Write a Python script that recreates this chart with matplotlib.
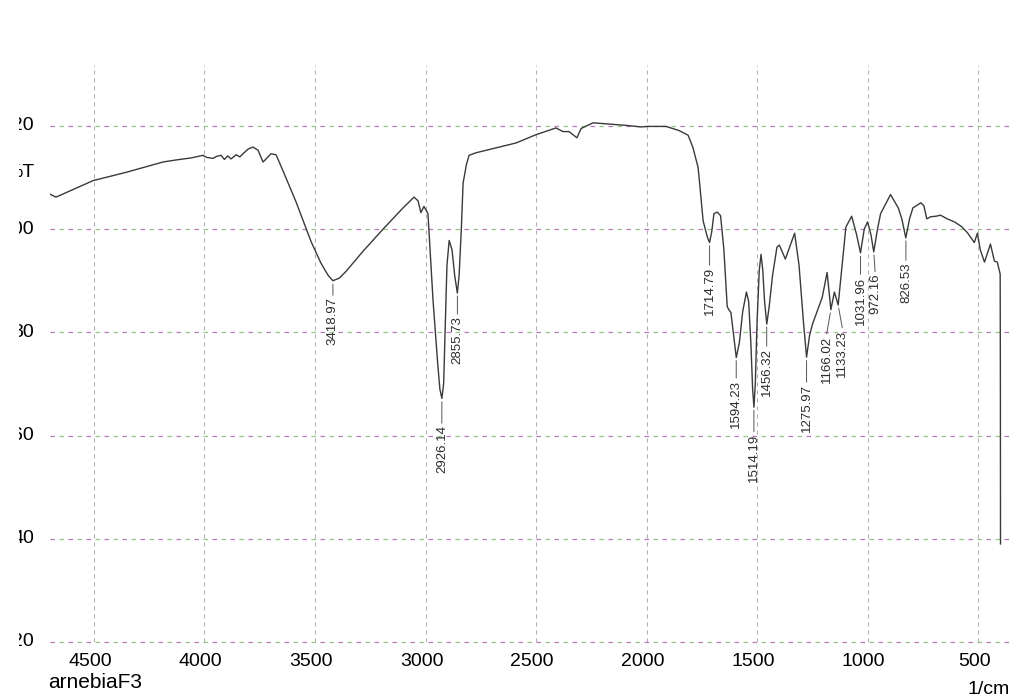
import numpy as np
import matplotlib
matplotlib.use('Agg')
import matplotlib.pyplot as plt
from matplotlib.transforms import Bbox, blended_transform_factory, offset_copy

plt.rcParams['font.family'] = ['Liberation Sans', 'DejaVu Sans']

# ---------------- data ----------------
wavenumber = [4700, 4672, 4504, 4355, 4188, 4129, 4060, 4007, 3990, 3962, 3945, 3925,
              3910, 3895, 3880, 3857, 3840, 3826, 3803, 3781, 3758, 3735, 3699, 3676,
              3640, 3586, 3518, 3473, 3440, 3419, 3390, 3360, 3283, 3192, 3102, 3052,
              3034, 3021, 3007, 2989, 2966, 2945, 2935, 2926, 2918, 2910, 2903, 2893,
              2880, 2868, 2856, 2848, 2838, 2830, 2815, 2803, 2771, 2667, 2590, 2500,
              2410, 2378, 2351, 2315, 2296, 2242, 2183, 2093, 2025, 1993, 1912, 1853,
              1812, 1790, 1767, 1762, 1744, 1725, 1715, 1705, 1695, 1680, 1665, 1650,
              1642, 1635, 1628, 1618, 1605, 1594, 1580, 1565, 1548, 1538, 1528, 1520,
              1514, 1508, 1500, 1490, 1482, 1474, 1466, 1456, 1445, 1430, 1410, 1399,
              1372, 1330, 1310, 1290, 1276, 1262, 1249, 1220, 1205, 1183, 1166, 1150,
              1133, 1115, 1098, 1072, 1050, 1032, 1015, 1000, 985, 972, 955, 941, 896,
              861, 845, 827, 810, 795, 759, 745, 732, 714, 690, 670, 640, 607, 575,
              548, 517, 503, 490, 471, 444, 426, 413, 400, 399, 398.5]
transmittance = [106.8, 106.2, 109.4, 111.0, 113.0, 113.4, 113.8, 114.3, 113.9, 113.7, 114.1, 114.3,
                 113.5, 114.2, 113.6, 114.4, 114.0, 114.6, 115.5, 115.9, 115.3, 113.0, 114.6, 114.4,
                 110.8, 105.3, 97.6, 93.4, 91.0, 90.0, 90.5, 91.8, 95.7, 100.0, 104.1, 106.2,
                 105.5, 103.2, 104.4, 103.0, 86.2, 74.0, 69.0, 67.2, 70.0, 82.0, 93.0, 97.8,
                 96.0, 91.0, 87.6, 91.0, 100.0, 108.9, 112.5, 114.3, 114.8, 115.9, 116.7, 118.3,
                 119.6, 118.9, 118.9, 117.7, 119.5, 120.6, 120.4, 120.1, 119.8, 119.9, 119.9, 119.1,
                 118.2, 115.8, 112.0, 109.9, 101.6, 98.5, 97.4, 99.5, 103.0, 103.3, 102.6, 96.0,
                 90.0, 85.0, 84.4, 83.8, 79.0, 75.1, 78.0, 84.0, 87.8, 86.0, 78.0, 69.0,
                 65.5, 70.0, 82.0, 92.0, 95.1, 92.0, 86.0, 81.6, 85.0, 91.0, 96.5, 96.9,
                 94.2, 99.2, 93.0, 82.0, 75.2, 79.5, 81.6, 85.0, 86.8, 91.6, 84.4, 87.8,
                 85.3, 93.0, 100.4, 102.5, 99.0, 95.4, 100.0, 101.4, 99.0, 95.6, 100.0, 103.0, 106.7,
                 104.1, 102.0, 98.3, 102.0, 104.1, 105.1, 104.5, 102.0, 102.4, 102.5, 102.7, 102.0, 101.4, 100.5,
                 99.3, 97.4, 99.2, 96.0, 93.6, 97.1, 93.8, 93.6, 91.3, 70.0, 39.0]

peak_wn = [3418.97, 2926.14, 2855.73, 1714.79, 1594.23, 1514.19, 1456.32,
           1275.97, 1166.02, 1133.23, 1031.96, 972.16, 826.53]
peak_labels = ["3418.97", "2926.14", "2855.73", "1714.79", "1594.23", "1514.19", "1456.32",
               "1275.97", "1166.02", "1133.23", "1031.96", "972.16", "826.53"]

x_ticks = [4500, 4000, 3500, 3000, 2500, 2000, 1500, 1000, 500]
y_ticks = [20, 40, 60, 80, 100, 120]

# ---------------- figure ----------------
W, H = 1011, 699
fig = plt.figure(figsize=(W / 100, H / 100), dpi=100)
fig.patch.set_facecolor('white')
ax = fig.add_axes([50 / W, 1 - 642 / H, 961 / W, (642 - 65) / H])
ax.set_xlim(4699, 351)
ax.set_ylim(20, 131.8)
for s in ax.spines.values():
    s.set_visible(False)
ax.set_xticks([])
ax.set_yticks([])

# grid lines
for xv in x_ticks:
    ax.axvline(xv, color='#b0b0b0', lw=0.8, ls=(0, (3.6, 3.6)), zorder=1)
for yv in y_ticks:
    ax.axhline(yv, color='#b67ab8', lw=0.9, ls=(0, (3.6, 10.8)), clip_on=False, zorder=1)
    ax.axhline(yv, color='#9cc48a', lw=0.9, ls=(7.2, (3.6, 10.8)), clip_on=False, zorder=1)

# spectrum
ax.plot(wavenumber, transmittance, color='#3a3a3a', lw=1.0, zorder=3)

# peak labels: short leader line, then vertical text below it
label_dx = [0, 0, 0, 0, 0, 0, 0, 0, -3, 3, 0, 1, 0]
label_dy = [12, 19.5, 17, 18, 16.5, 19.5, 18, 19.5, 19, 18, 17, 16, 18]
wn_asc = wavenumber[::-1]
t_asc = transmittance[::-1]
for wn, lab, dx, dy in zip(peak_wn, peak_labels, label_dx, label_dy):
    tv = float(np.interp(wn, wn_asc, t_asc))
    ax.annotate('', xy=(wn, tv), xytext=(dx, -(dy - 1.5)), textcoords='offset points',
                arrowprops=dict(arrowstyle='-', color='#555555', lw=0.7,
                                shrinkA=0, shrinkB=2.5), zorder=4)
    ax.annotate(lab, xy=(wn, tv), xytext=(dx, -dy), textcoords='offset points',
                rotation=90, ha='center', va='top', fontsize=9.5, color='#2c2c2c',
                zorder=4)

# x tick labels
xtrans = offset_copy(blended_transform_factory(ax.transData, ax.transAxes),
                     fig=fig, x=-4, y=-19, units='dots')
for xv in x_ticks:
    ax.text(xv, 0, str(xv), transform=xtrans, ha='center', va='center',
            fontsize=14, clip_on=False)

# y tick labels (cut off by the scan's left edge)
trans = offset_copy(blended_transform_factory(ax.transAxes, ax.transData),
                    fig=fig, x=-16, y=0, units='dots')
clip = Bbox([[19, 0], [W, H]])
for yv in y_ticks:
    t = ax.text(0, yv, str(yv), transform=trans, ha='right', va='center', fontsize=14)
    t.set_clip_box(clip)
    t.set_clip_on(True)
t = ax.text(0, 111, '%T', transform=trans, ha='right', va='center', fontsize=14)
t.set_clip_box(clip)
t.set_clip_on(True)

fig.text(48 / W, 1 - 683 / H, 'arnebiaF3', ha='left', va='center', fontsize=15)
fig.text(1010 / W, 1 - 689 / H, '1/cm', ha='right', va='center', fontsize=14)

fig.savefig('out.png', dpi=100, facecolor='white')
